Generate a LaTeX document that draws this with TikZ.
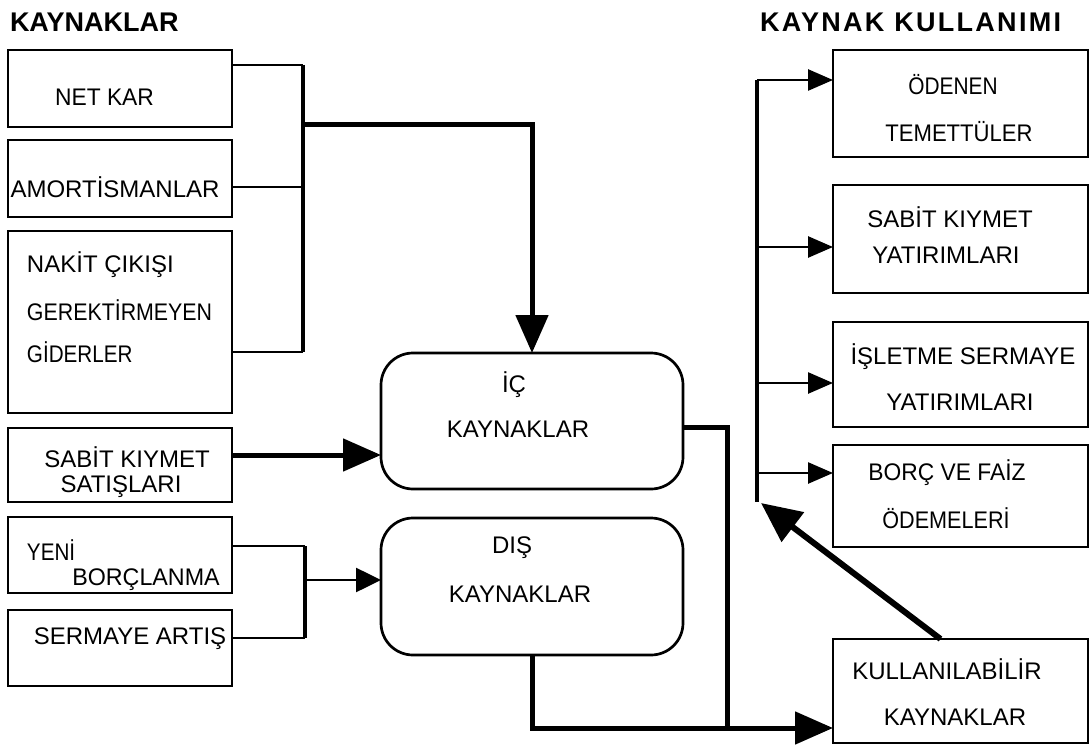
\documentclass[tikz,border=0pt]{standalone}
\usepackage{fontspec}
\usepackage{graphicx}
\setmainfont{Liberation Sans}
\usetikzlibrary{arrows.meta}
\newcommand{\bodyfont}{\fontsize{24}{28}\selectfont}
\newcommand{\titlefont}{\fontsize{27}{30}\selectfont\bfseries}
\newcommand{\sx}[2]{\scalebox{#1}[1]{#2}}
\tikzset{
  box/.style={draw, line width=2.7pt, inner sep=0pt, outer sep=0pt},
  rbox/.style={box, rounded corners=32pt},
  txt/.style={inner sep=0pt, outer sep=0pt, font=\bodyfont},
  ttl/.style={inner sep=0pt, outer sep=0pt, anchor=west, font=\titlefont},
  conn/.style={line width=2.6pt},
  bus/.style={line width=4pt},
  heavy/.style={line width=5pt},
  diag/.style={line width=6pt},
  bigtip/.style={-{Triangle[length=38pt,width=32pt]}},
  midtip/.style={-{Triangle[length=25pt,width=24pt]}},
  smalltip/.style={-{Triangle[length=25pt,width=21pt]}},
}
\begin{document}
\begin{tikzpicture}[x=1pt,y=-1pt]
\useasboundingbox (0,0) rectangle (1090,749);

% titles
\node[ttl] (t1) at (10,22) {KAYNAKLAR};
\node[ttl] (t2) at (760,22) {\addfontfeature{LetterSpace=8.5}KAYNAK\ KULLANIMI};

% left boxes
\node[box, minimum width=224pt, minimum height=77pt] (netkar) at (120,88.5) {};
\node[box, minimum width=224pt, minimum height=77pt] (amort) at (120,178.5) {};
\node[box, minimum width=224pt, minimum height=182pt] (nakit) at (120,322) {};
\node[box, minimum width=224pt, minimum height=74pt] (sabits) at (120,465) {};
\node[box, minimum width=224pt, minimum height=76pt] (yeni) at (120,555) {};
\node[box, minimum width=224pt, minimum height=76pt] (serm) at (120,648) {};

\node[txt] (tnetkar) at (104.5,97) {\sx{0.95}{NET KAR}};
\node[txt] (tamort) at (115,187) {AMORTİSMANLAR};
\node[txt, anchor=west] (tnak1) at (27,265) {NAKİT ÇIKIŞI};
\node[txt, anchor=west] (tnak2) at (27,310) {\sx{0.89}{GEREKTİRMEYEN}};
\node[txt, anchor=west] (tnak3) at (27,352) {\sx{0.86}{GİDERLER}};
\node[txt] (tsab1) at (127,457) {SABİT KIYMET};
\node[txt] (tsab2) at (121,487) {SATIŞLARI};
\node[txt, anchor=west] (tyen1) at (27,550) {\sx{0.86}{YENİ}};
\node[txt] (tyen2) at (146,580) {\sx{0.97}{BORÇLANMA}};
\node[txt] (tserm) at (130,639) {SERMAYE ARTIŞ};

% centre boxes
\node[rbox, minimum width=302pt, minimum height=136pt] (ic) at (532,421) {};
\node[rbox, minimum width=302pt, minimum height=137pt] (dis) at (532,586.5) {};
\node[txt] (tic1) at (514,385) {İÇ};
\node[txt] (tic2) at (518,429) {KAYNAKLAR};
\node[txt] (tdis1) at (512,548) {DIŞ};
\node[txt] (tdis2) at (520,594) {KAYNAKLAR};

% right boxes
\node[box, minimum width=255pt, minimum height=107pt] (oden) at (960.5,103.5) {};
\node[box, minimum width=255pt, minimum height=108pt] (sabity) at (960.5,239) {};
\node[box, minimum width=255pt, minimum height=105pt] (islet) at (960.5,374.5) {};
\node[box, minimum width=255pt, minimum height=102pt] (borc) at (960.5,496) {};
\node[box, minimum width=255pt, minimum height=104pt] (kull) at (960.5,691) {};

\node[txt] (tod1) at (953,85) {\sx{0.87}{ÖDENEN}};
\node[txt] (tod2) at (959,132) {\sx{0.92}{TEMETTÜLER}};
\node[txt] (tsy1) at (950,217) {SABİT KIYMET};
\node[txt] (tsy2) at (946,255) {YATIRIMLARI};
\node[txt] (tis1) at (963,357) {İŞLETME SERMAYE};
\node[txt] (tis2) at (960,402) {YATIRIMLARI};
\node[txt] (tbo1) at (947,473) {\sx{0.95}{BORÇ VE FAİZ}};
\node[txt] (tbo2) at (946,518) {\sx{0.9}{ÖDEMELERİ}};
\node[txt] (tku1) at (947,669) {KULLANILABİLİR};
\node[txt] (tku2) at (955,717) {KAYNAKLAR};

% left bus 1
\coordinate (b1a) at (303,65);
\coordinate (b1b) at (303,187);
\coordinate (b1c) at (303,352);
\coordinate (b1m) at (303,125);
\draw[bus] (b1a) -- (b1c);
\draw[conn] (netkar.east |- b1a) -- (b1a);
\draw[conn] (amort.east |- b1b) -- (b1b);
\draw[conn] (nakit.east |- b1c) -- (b1c);
\draw[heavy, bigtip] (b1m) -| (ic.north);

% sabit kiymet satislari
\coordinate (ys) at (0,455);
\draw[heavy, bigtip] (sabits.east |- ys) -- (ic.west |- ys);

% left bus 2
\coordinate (b2a) at (305,546);
\coordinate (b2b) at (305,638);
\coordinate (b2m) at (305,580);
\draw[bus] (b2a) -- (b2b);
\draw[conn] (yeni.east |- b2a) -- (b2a);
\draw[conn] (serm.east |- b2b) -- (b2b);
\draw[conn, midtip] (b2m) -- (dis.west |- b2m);

% outputs to kullanilabilir
\coordinate (oi) at (0,427);
\coordinate (j) at (727,728);
\draw[heavy] (ic.east |- oi) -| (j);
\draw[heavy, bigtip] (dis.south) |- (kull.west |- j);

% right bus
\coordinate (rtop) at (757,80);
\coordinate (rbot) at (757,502);
\coordinate (r2) at (757,247);
\coordinate (r3) at (757,383);
\coordinate (r4) at (757,473);
\draw[bus] (rtop) -- (rbot);
\draw[conn, smalltip] (rtop) -- (oden.west |- rtop);
\draw[conn, smalltip] (r2) -- (sabity.west |- r2);
\draw[conn, smalltip] (r3) -- (islet.west |- r3);
\draw[conn, smalltip] (r4) -- (borc.west |- r4);

% diagonal
\coordinate (tip) at (761,503);
\draw[diag, -{Triangle[length=40pt,width=36pt]}] ([xshift=-20pt]kull.north) -- (tip);
\end{tikzpicture}
\end{document}
